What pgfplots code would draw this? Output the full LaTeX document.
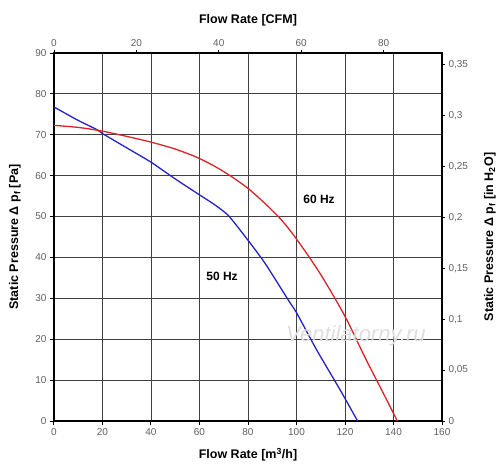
\documentclass[border=0pt]{standalone}
\usepackage{fontspec}
\setmainfont{Liberation Sans}
\usepackage{pgfplots}
\pgfplotsset{compat=1.18}
\definecolor{cblue}{RGB}{35,35,200}
\definecolor{cred}{RGB}{220,35,40}
\definecolor{tickgray}{RGB}{95,95,95}
\begin{document}
\begin{tikzpicture}
\path[use as bounding box] (-54bp,-52bp) rectangle (446bp,421bp);
\begin{axis}[
  at={(0,0)}, anchor=south west,
  scale only axis, width=388bp, height=368bp,
  xmin=0, xmax=160, ymin=0, ymax=90,
  xtick={0,20,...,160}, ytick={0,10,...,90},
  xtick pos=bottom, ytick pos=left,
  grid=major, major grid style={draw=black!75, line width=0.8bp},
  axis line style={line width=1.4bp},
  tick align=outside, major tick length=4bp,
  tick style={black, line width=1bp},
  /pgf/number format/assume math mode=true,
  ticklabel style={font=\fontsize{10bp}{12bp}\selectfont, text=tickgray},
  xlabel={Flow Rate [m\textsuperscript{3}/h]},
  ylabel={Static Pressure Δ p\textsubscript{f} [Pa]},
  label style={font=\bfseries\fontsize{12.5bp}{14bp}\selectfont},
  xlabel style={at={(axis description cs:0.5,-0.0924)}, anchor=center},
  ylabel style={at={(axis description cs:-0.1005,0.5)}, anchor=center},
  clip=false,
]
\addplot[cblue, line width=1.3bp, smooth, tension=0.35] coordinates {
(0,76.8) (10,73.5) (17.6,71.3) (20,70.3) (30,66.8) (40,63.3) (50,59.2) (60,55.3)
(66,53) (72,50.2) (80,44.2) (87,38.6) (96.6,29.6) (100,26.5) (108.3,17.4) (118,7.6) (125.2,0)
};
\addplot[cred, line width=1.3bp, smooth, tension=0.5] coordinates {
(0,72.3) (10,71.8) (19,71) (30,69.6) (40,68.2) (50,66.5) (60,64.2) (70,61)
(80.8,56.5) (92.5,50) (100,44.5) (110,35.8) (120,25.6) (128.2,15.6) (135.8,6.8) (141.6,0)
};
\node[font=\bfseries\fontsize{12bp}{14bp}\selectfont] at (axis cs:69.3,35.3) {50 Hz};
\node[font=\bfseries\fontsize{12bp}{14bp}\selectfont] at (axis cs:109.3,54.2) {60 Hz};
\node[font=\itshape\fontsize{22bp}{24bp}\selectfont, text=black!13] at (axis cs:124.5,20.8) {Ventilatorny.ru};
\end{axis}
\begin{axis}[
  at={(0,0)}, anchor=south west,
  scale only axis, width=388bp, height=368bp,
  xmin=0, xmax=94.172, ymin=0, ymax=0.36132,
  axis x line*=top, axis y line*=right,
  xtick={0,20,...,80}, ytick={0,0.05,...,0.35},
  axis line style={line width=1.2bp, -},
  tick align=outside, major tick length=3bp,
  tick style={black, line width=1bp},
  /pgf/number format/assume math mode=true,
  yticklabel={\pgfmathprintnumber[fixed, precision=2, use comma]{\tick}},
  ticklabel style={font=\fontsize{10bp}{12bp}\selectfont, text=tickgray},
  xlabel={Flow Rate [CFM]},
  ylabel={Static Pressure Δ p\textsubscript{f} [in H\textsubscript{2}O]},
  label style={font=\bfseries\fontsize{12.5bp}{14bp}\selectfont},
  xlabel style={at={(axis description cs:0.5,1.0897)}, anchor=center},
  ylabel style={at={(axis description cs:1.1237,0.5)}, anchor=center},
]
\end{axis}
\end{tikzpicture}
\end{document}
